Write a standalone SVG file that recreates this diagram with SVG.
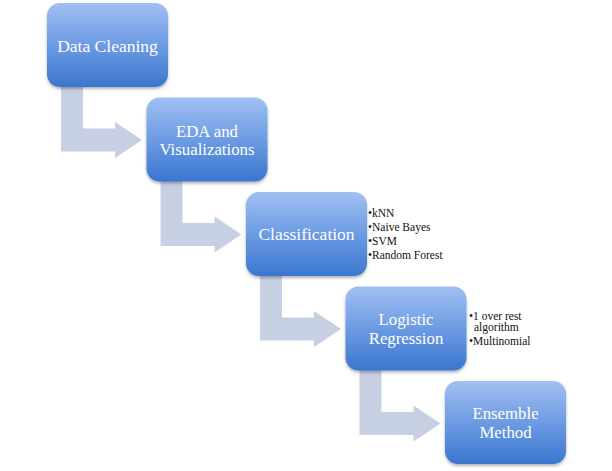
<svg xmlns="http://www.w3.org/2000/svg" width="612" height="471" viewBox="0 0 612 471">
<defs>
<linearGradient id="g" x1="0" y1="0" x2="0" y2="1">
<stop offset="0" stop-color="#a0c0f2"/>
<stop offset="0.5" stop-color="#6d9be3"/>
<stop offset="1" stop-color="#3a76cf"/>
</linearGradient>
<filter id="sh" x="-10%" y="-10%" width="120%" height="125%">
<feDropShadow dx="0" dy="2" stdDeviation="1.5" flood-color="#000" flood-opacity="0.3"/>
</filter>
<path id="arr" d="M61,84 L83,84 L83,128.5 L115,128.5 L115,122 L142,140 L115,158 L115,151.5 L61,151.5 Z"/>
</defs>
<style>
.box{fill:url(#g);filter:url(#sh)}
.lbl{font-family:"Liberation Serif","Times New Roman",serif;font-size:17.5px;fill:#fff;text-anchor:middle}
.lbl2{font-size:16.8px}
.bul{font-family:"Liberation Serif","Times New Roman",serif;font-size:11.5px;fill:#111}
.arrow{fill:#c7d0e3}
</style>
<rect width="612" height="471" fill="#fff"/>
<g id="connectors">
<use href="#arr" class="arrow"/>
<use href="#arr" class="arrow" transform="translate(99.5,94.5)"/>
<use href="#arr" class="arrow" transform="translate(199,189)"/>
<use href="#arr" class="arrow" transform="translate(298.5,283.5)"/>
</g>
<g id="data-cleaning">
<rect class="box" x="47" y="3" width="121" height="84" rx="13"/>
<text class="lbl" x="107.5" y="52">Data Cleaning</text>
</g>
<g id="eda">
<rect class="box" x="146.5" y="97.5" width="121" height="84" rx="13"/>
<text class="lbl lbl2" x="207" y="136.5">EDA and</text>
<text class="lbl lbl2" x="207" y="155.2">Visualizations</text>
</g>
<g id="classification">
<rect class="box" x="246" y="192" width="121" height="84" rx="13"/>
<text class="lbl" x="306.5" y="239.5">Classification</text>
<text class="bul" x="368" y="217">•kNN</text>
<text class="bul" x="368" y="231">•Naive Bayes</text>
<text class="bul" x="368" y="245">•SVM</text>
<text class="bul" x="368" y="259">•Random Forest</text>
</g>
<g id="logistic-regression">
<rect class="box" x="345.5" y="286.5" width="121" height="84" rx="13"/>
<text class="lbl lbl2" x="406" y="325">Logistic</text>
<text class="lbl lbl2" x="406" y="343.7">Regression</text>
<text class="bul" x="469" y="320">•1 over rest</text>
<text class="bul" x="474" y="331">algorithm</text>
<text class="bul" x="469" y="345">•Multinomial</text>
</g>
<g id="ensemble-method">
<rect class="box" x="445" y="381" width="121" height="83" rx="13"/>
<text class="lbl lbl2" x="505.5" y="419">Ensemble</text>
<text class="lbl lbl2" x="505.5" y="437.7">Method</text>
</g>
</svg>
